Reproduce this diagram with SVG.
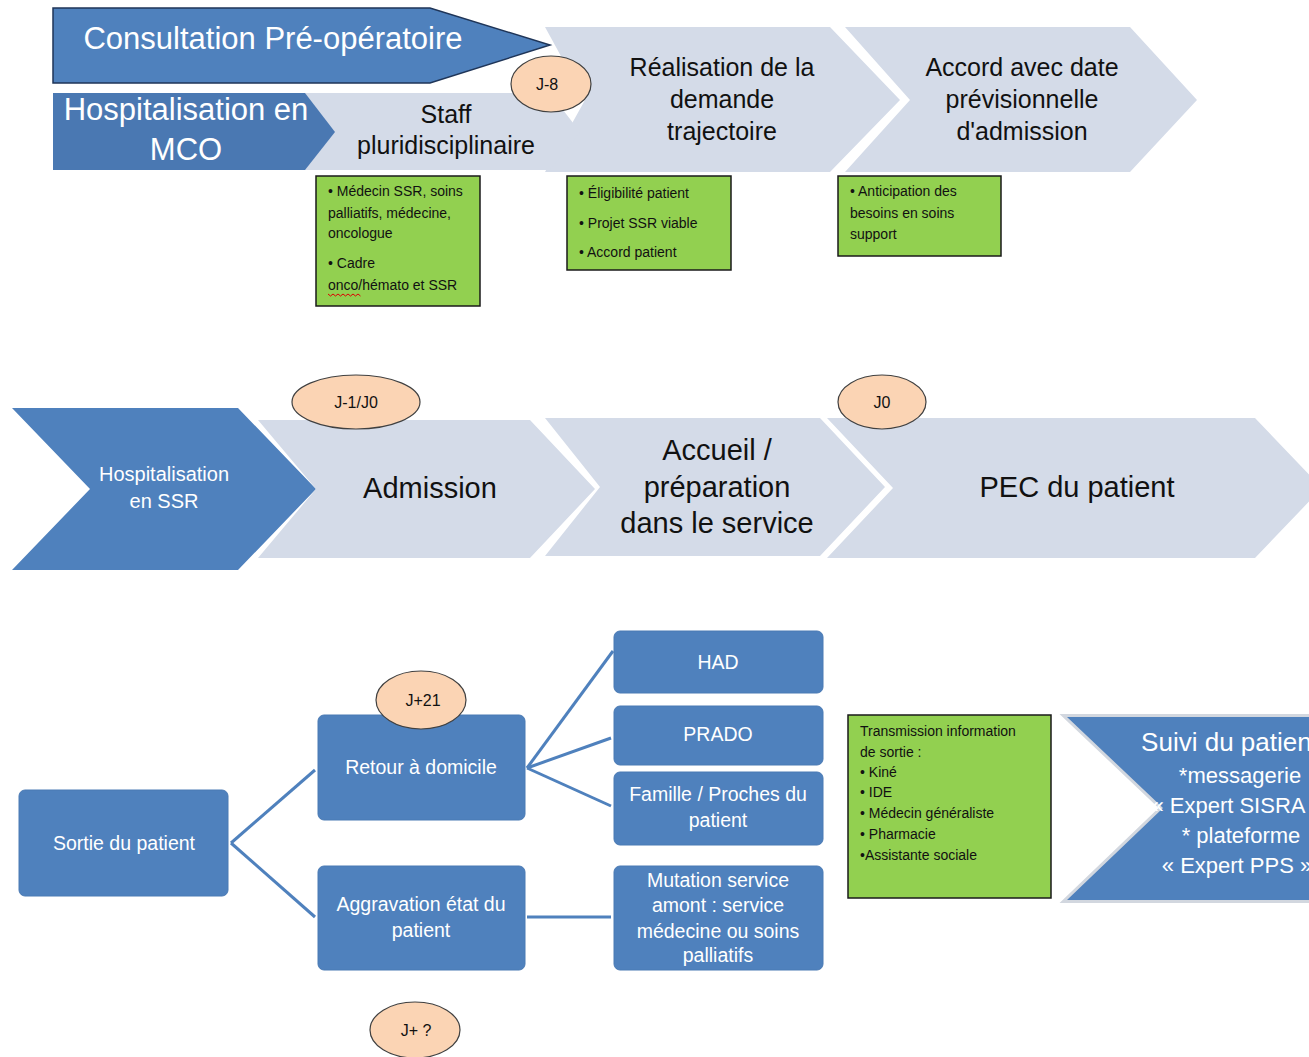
<svg xmlns="http://www.w3.org/2000/svg" width="1309" height="1057" viewBox="0 0 1309 1057">
<style>
text{font-family:"Liberation Sans",Arial,sans-serif;text-anchor:middle}
.dark{fill:#4F81BD}
.light{fill:#D4DBE8}
.w{fill:#fff}
.k{fill:#111}
.green{fill:#92D050;stroke:#1a1a1a;stroke-width:1.5}
.gt{text-anchor:start;fill:#111;font-size:14px}
.peach{fill:#FBD4B4;stroke:#404040;stroke-width:1.2}
.box{fill:#4F81BD;stroke:#4A7AB4;stroke-width:1}
.bt{fill:#fff;font-size:19.5px}
.link{stroke:#4F81BD;stroke-width:3;fill:none}
</style>
<rect width="1309" height="1057" fill="#fff"/>

<!-- Top row -->
<g id="realisation">
<polygon class="light" points="545,27 830,27 900,100 830,172 545,172 585,100"/>
<text class="k" font-size="25" x="722" y="76">Réalisation de la</text>
<text class="k" font-size="25" x="722" y="108">demande</text>
<text class="k" font-size="25" x="722" y="140">trajectoire</text>
</g>
<g id="accord">
<polygon class="light" points="845,27 1130,27 1197,100 1130,172 845,172 910,100"/>
<text class="k" font-size="25" x="1022" y="76">Accord avec date</text>
<text class="k" font-size="25" x="1022" y="108">prévisionnelle</text>
<text class="k" font-size="25" x="1022" y="140">d'admission</text>
</g>
<g id="staff">
<polygon class="light" points="300,93 550,93 580,132 550,170 300,170"/>
<text class="k" font-size="25" x="446" y="123">Staff</text>
<text class="k" font-size="25" x="446" y="154">pluridisciplinaire</text>
</g>
<g id="mco">
<polygon fill="#4A78B2" points="53,93 305,93 335,132 305,170 53,170"/>
<text class="w" font-size="31" x="186" y="120">Hospitalisation en</text>
<text class="w" font-size="31" x="186" y="160">MCO</text>
</g>
<g id="consultation">
<polygon class="dark" stroke="#1F3558" stroke-width="1.5" points="53,8 430,8 550,45 430,83 53,83"/>
<text class="w" font-size="31" x="273" y="49">Consultation Pré-opératoire</text>
</g>
<g id="j-8">
<ellipse class="peach" cx="551" cy="84" rx="40" ry="28"/>
<text class="k" font-size="16" x="547" y="90">J-8</text>
</g>

<g id="note-staff">
<rect class="green" x="316" y="176" width="164" height="130"/>
<text class="gt" x="328" y="196">• Médecin SSR, soins</text>
<text class="gt" x="328" y="218">palliatifs, médecine,</text>
<text class="gt" x="328" y="238">oncologue</text>
<text class="gt" x="328" y="268">• Cadre</text>
<text class="gt" x="328" y="290">onco/hémato et SSR</text>
<path d="M328,294 l2.5,2 l2.5,-2 l2.5,2 l2.5,-2 l2.5,2 l2.5,-2 l2.5,2 l2.5,-2 l2.5,2 l2.5,-2 l2.5,2 l2.5,-2 l2.5,2" stroke="#d00" stroke-width="1" fill="none"/>
</g>
<g id="note-realisation">
<rect class="green" x="567" y="176" width="164" height="94"/>
<text class="gt" x="579" y="198">• Éligibilité patient</text>
<text class="gt" x="579" y="228">• Projet SSR viable</text>
<text class="gt" x="579" y="257">• Accord patient</text>
</g>
<g id="note-accord">
<rect class="green" x="838" y="176" width="163" height="80"/>
<text class="gt" x="850" y="196">• Anticipation des</text>
<text class="gt" x="850" y="218">besoins en soins</text>
<text class="gt" x="850" y="239">support</text>
</g>

<!-- Middle row -->
<g id="ssr">
<polygon class="dark" points="12,408 238,408 316,489 238,570 12,570 90,489"/>
<text class="w" font-size="20" x="164" y="481">Hospitalisation</text>
<text class="w" font-size="20" x="164" y="508">en SSR</text>
</g>
<g id="admission">
<polygon class="light" points="258,420 530,420 595,489 530,558 258,558 316,489"/>
<text class="k" font-size="29" x="430" y="498">Admission</text>
</g>
<g id="accueil">
<polygon class="light" points="545,418 820,418 885,487 820,556 545,556 600,487"/>
<text class="k" font-size="29" x="717" y="460">Accueil /</text>
<text class="k" font-size="29" x="717" y="497">préparation</text>
<text class="k" font-size="29" x="717" y="533">dans le service</text>
</g>
<g id="pec">
<polygon class="light" points="827,418 1255,418 1322,488 1255,558 827,558 893,488"/>
<text class="k" font-size="29" x="1077" y="497">PEC du patient</text>
</g>
<g id="j-1-j0">
<ellipse class="peach" cx="356" cy="402" rx="64" ry="27"/>
<text class="k" font-size="16" x="356" y="408">J-1/J0</text>
</g>
<g id="j0">
<ellipse class="peach" cx="882" cy="402" rx="44" ry="27"/>
<text class="k" font-size="16" x="882" y="408">J0</text>
</g>

<!-- Bottom -->
<g id="connectors">
<line class="link" x1="231" y1="843" x2="315" y2="770"/>
<line class="link" x1="231" y1="843" x2="315" y2="917"/>
<line class="link" x1="527" y1="768" x2="613" y2="651"/>
<line class="link" x1="527" y1="768" x2="611" y2="738"/>
<line class="link" x1="527" y1="768" x2="611" y2="806"/>
<line class="link" x1="527" y1="917" x2="611" y2="917"/>
</g>
<g id="sortie">
<rect class="box" x="19" y="790" width="209" height="106" rx="6"/>
<text class="bt" x="124" y="850">Sortie du patient</text>
</g>
<g id="retour">
<rect class="box" x="318" y="715" width="207" height="105" rx="6"/>
<text class="bt" x="421" y="774">Retour à domicile</text>
</g>
<g id="aggravation">
<rect class="box" x="318" y="866" width="207" height="104" rx="6"/>
<text class="bt" x="421" y="911">Aggravation état du</text>
<text class="bt" x="421" y="937">patient</text>
</g>
<g id="had">
<rect class="box" x="614" y="631" width="209" height="62" rx="6"/>
<text class="bt" x="718" y="669">HAD</text>
</g>
<g id="prado">
<rect class="box" x="614" y="706" width="209" height="59" rx="6"/>
<text class="bt" x="718" y="741">PRADO</text>
</g>
<g id="famille">
<rect class="box" x="614" y="772" width="209" height="73" rx="6"/>
<text class="bt" x="718" y="801">Famille / Proches du</text>
<text class="bt" x="718" y="827">patient</text>
</g>
<g id="mutation">
<rect class="box" x="614" y="866" width="209" height="104" rx="6"/>
<text class="bt" x="718" y="887">Mutation service</text>
<text class="bt" x="718" y="912">amont : service</text>
<text class="bt" x="718" y="938">médecine ou soins</text>
<text class="bt" x="718" y="962">palliatifs</text>
</g>
<g id="j21">
<ellipse class="peach" cx="421" cy="700" rx="45" ry="29"/>
<text class="k" font-size="16" x="423" y="706">J+21</text>
</g>
<g id="jplus">
<ellipse class="peach" cx="415" cy="1030" rx="45" ry="28"/>
<text class="k" font-size="16" x="416" y="1036">J+ ?</text>
</g>
<g id="note-sortie">
<rect class="green" x="848" y="715" width="203" height="183"/>
<text class="gt" x="860" y="736">Transmission information</text>
<text class="gt" x="860" y="757">de sortie :</text>
<text class="gt" x="860" y="777">• Kiné</text>
<text class="gt" x="860" y="797">• IDE</text>
<text class="gt" x="860" y="818">• Médecin généraliste</text>
<text class="gt" x="860" y="839">• Pharmacie</text>
<text class="gt" x="860" y="860">•Assistante sociale</text>
</g>
<g id="suivi">
<polygon fill="none" stroke="#D2D7DF" stroke-width="6" points="1067,717 1320,717 1320,900 1067,900 1163,808"/>
<polygon class="dark" points="1067,717 1320,717 1320,900 1067,900 1163,808"/>
<text class="w" font-size="26" x="1230" y="751">Suivi du patient</text>
<text class="w" font-size="22" x="1240" y="783">*messagerie</text>
<text class="w" font-size="22" x="1237" y="813">« Expert SISRA »</text>
<text class="w" font-size="22" x="1241" y="843">* plateforme</text>
<text class="w" font-size="22" x="1237" y="873">« Expert PPS »</text>
</g>
</svg>
